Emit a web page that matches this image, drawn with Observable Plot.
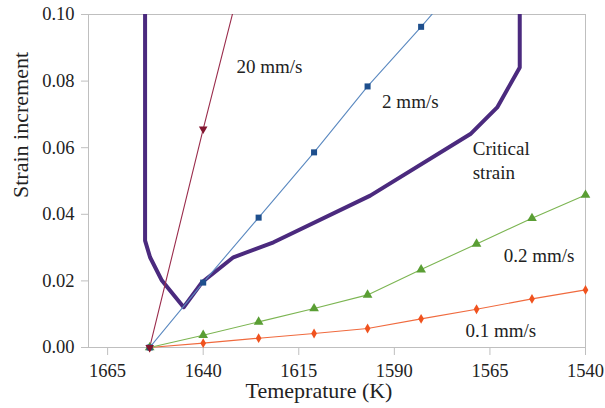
<!DOCTYPE html>
<html>
<head>
<meta charset="utf-8">
<script src="https://cdn.jsdelivr.net/npm/d3@7"></script>
<script src="https://cdn.jsdelivr.net/npm/@observablehq/plot@0.6"></script>
<style>
  html, body { margin: 0; padding: 0; background: #fff; }
</style>
</head>
<body>
<div id="chart"></div>
<script>
// Temperatures (K) of the measured points
const temps = [1654, 1640, 1625.5, 1611, 1597, 1583, 1568.5, 1554, 1540];
// Strain increment per pulling speed
const v01 = [0, 0.0013, 0.0028, 0.0042, 0.0057, 0.0086, 0.0115, 0.0146, 0.0173];
const v02 = [0, 0.0037, 0.0077, 0.0117, 0.0158, 0.0234, 0.0311, 0.0388, 0.0458];
const v2  = [0, 0.0195, 0.0390, 0.0586, 0.0784, 0.0963, 0.1155];
const v20 = [0, 0.0656, 0.1310];
// Critical strain curve
const critT = [1655.2, 1655.2, 1653.9, 1650.8, 1645.1, 1640.3, 1632.1, 1621.6, 1596.3, 1570.1, 1563.1, 1557.2, 1557.2];
const critV = [0.100, 0.0321, 0.0271, 0.0201, 0.0121, 0.0196, 0.0271, 0.0316, 0.0456, 0.0641, 0.0721, 0.0841, 0.100];
// Axis ticks
const xTicks = [1665, 1640, 1615, 1590, 1565, 1540];
const yTicks = [0, 0.02, 0.04, 0.06, 0.08, 0.10];
// Annotations
const labelText = ["20 mm/s", "2 mm/s", "Critical\nstrain", "0.2 mm/s", "0.1 mm/s"];
const labelT = [1631.3, 1593.2, 1569.5, 1561.4, 1571.4];
const labelV = [0.0847, 0.0742, 0.0566, 0.0279, 0.0056];

const toRows = (vals) => vals.map((v, i) => ({T: temps[i], v}));
const s01 = toRows(v01), s02 = toRows(v02), s2 = toRows(v2), s20 = toRows(v20);
const crit = critT.map((T, i) => ({T, v: critV[i]}));
const labels = labelText.map((t, i) => ({t, T: labelT[i], v: labelV[i]}));
const inView = d => d.v <= 0.1;

const serif = "Liberation Serif";
const grey = "#bfbfbf";
const chart = Plot.plot({
  width: 605,
  height: 408,
  marginLeft: 88,
  marginRight: 20,
  marginTop: 14,
  marginBottom: 61,
  style: {fontFamily: serif, fontSize: "18.5px", background: "#fff", color: "#222"},
  x: {domain: [1670, 1540]},
  y: {domain: [0, 0.10]},
  marks: [
    Plot.frame({stroke: grey}),
    Plot.axisX({ticks: xTicks, tickFormat: d => String(d), tickSize: 8, tickPadding: 8, stroke: grey, fill: "#222", fontFamily: serif, fontSize: 18.5, label: null}),
    Plot.axisY({ticks: yTicks, tickFormat: d3.format(".2f"), tickSize: 7, tickPadding: 7, stroke: grey, fill: "#222", fontFamily: serif, fontSize: 18.5, label: null}),
    // critical strain
    Plot.line(crit, {x: "T", y: "v", stroke: "#4b2a7e", strokeWidth: 4, strokeLinejoin: "round", clip: true}),
    // 0.1 mm/s
    Plot.line(s01, {x: "T", y: "v", stroke: "#f06a3e", strokeWidth: 1.1}),
    // 0.2 mm/s
    Plot.line(s02, {x: "T", y: "v", stroke: "#7cb552", strokeWidth: 1.1}),
    // 2 mm/s
    Plot.line(s2, {x: "T", y: "v", stroke: "#5b89c0", strokeWidth: 1.1, clip: true}),
    // 20 mm/s
    Plot.line(s20, {x: "T", y: "v", stroke: "#9a2c4c", strokeWidth: 1.1, clip: true}),
    Plot.dot(s01, {x: "T", y: "v", symbol: "diamond", r: 3, fill: "#f0521e"}),
    Plot.dot(s02, {x: "T", y: "v", symbol: "triangle", r: 3.6, fill: "#5a9e34"}),
    Plot.dot(s2, {x: "T", y: "v", filter: inView, symbol: "square", r: 3.4, fill: "#1e4f8d"}),
    Plot.dot(s20, {x: "T", y: "v", filter: inView, symbol: "triangle", rotate: 180, r: 3.2, fill: "#82152f"}),
    // annotations
    Plot.text(labels, {x: "T", y: "v", text: "t", textAnchor: "start", fontFamily: serif, fontSize: 19, lineHeight: 1.28, fill: "#222"}),
    // axis titles
    Plot.text(["Temeprature (K)"], {frameAnchor: "bottom", text: d => d, dx: -18, dy: 50, fontFamily: serif, fontSize: 22, fill: "#222"}),
    Plot.text(["Strain increment"], {frameAnchor: "left", text: d => d, rotate: -90, dx: -68, dy: 17, fontFamily: serif, fontSize: 22, fill: "#222"})
  ]
});
chart.querySelectorAll("text").forEach(t => { t.style.fontFamily = "'Liberation Serif', serif"; });
document.getElementById("chart").appendChild(chart);
</script>
</body>
</html>
